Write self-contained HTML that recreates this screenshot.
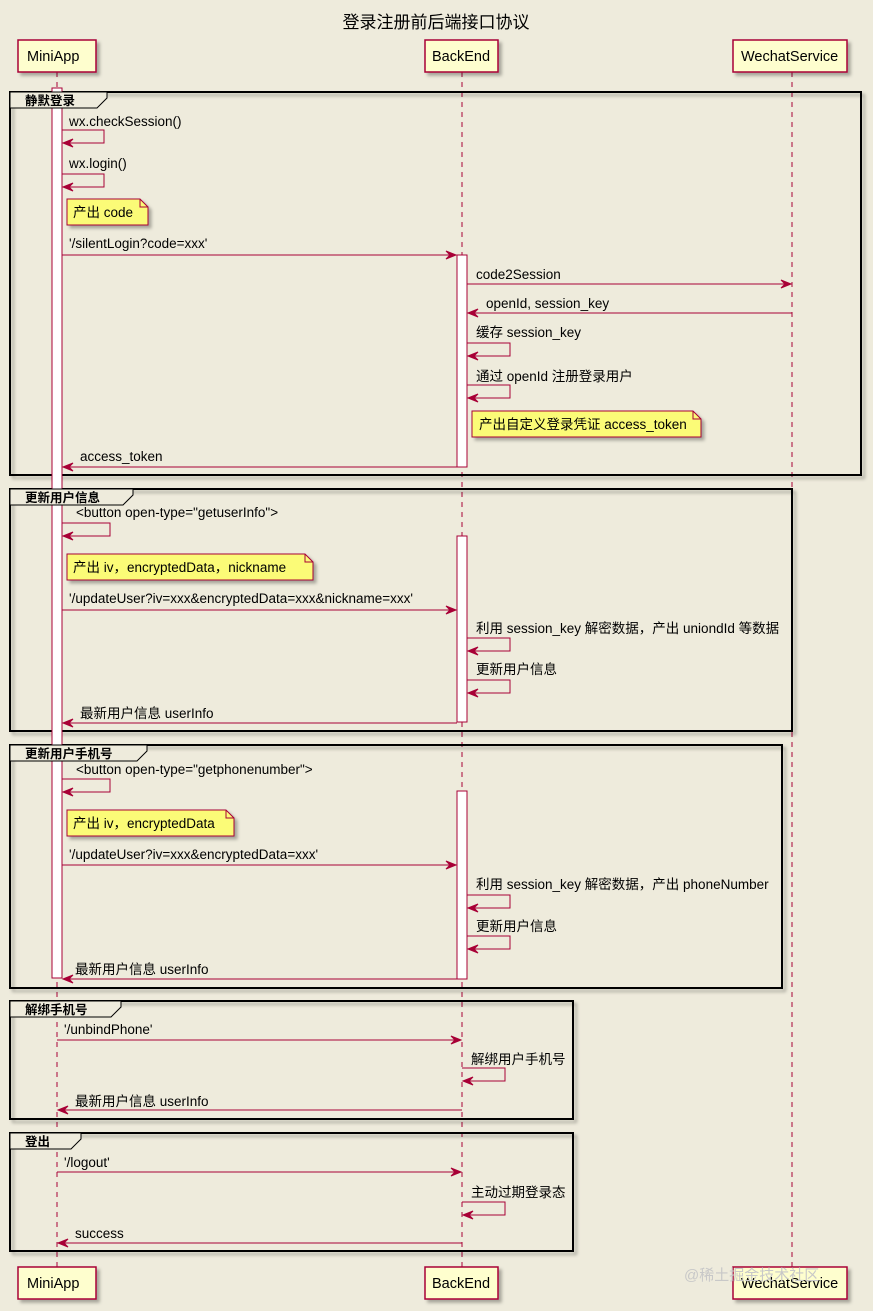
<!DOCTYPE html>
<html><head><meta charset="utf-8"><style>
html,body{margin:0;padding:0;background:#EEEBDC;}
svg{display:block;}
text{font-family:"Liberation Sans","Noto Sans CJK SC",sans-serif;font-size:13.5px;fill:#000;}
.b{font-weight:bold;font-size:12.5px;}
.ar{stroke:#A80036;stroke-width:1;fill:none;}
.ah{fill:#A80036;stroke:#A80036;}
.ll{stroke:#A80036;stroke-width:1;stroke-dasharray:5,5;}
.act{fill:#fff;stroke:#A80036;stroke-width:1;}
.pb{fill:#FEFECE;stroke:#A80036;stroke-width:1.5;}
.gr{fill:none;stroke:#000;stroke-width:2;}
.note{fill:#FBFB77;stroke:#A80036;stroke-width:1;}
</style></head><body>
<svg width="873" height="1311" viewBox="0 0 873 1311" xmlns="http://www.w3.org/2000/svg">
<defs>
<filter id="sh" x="-10%" y="-10%" width="130%" height="140%"><feDropShadow dx="3" dy="3" stdDeviation="1.5" flood-color="#000" flood-opacity="0.3"/></filter>
</defs>
<text x="436" y="28" text-anchor="middle" style="font-size:17px">登录注册前后端接口协议</text>

<line class="ll" x1="57" y1="72" x2="57" y2="1267"/>
<line class="ll" x1="462" y1="72" x2="462" y2="1267"/>
<line class="ll" x1="792" y1="72" x2="792" y2="1267"/>

<g filter="url(#sh)">
<rect class="gr" x="10" y="92" width="851" height="383"/>
<rect class="gr" x="10" y="489" width="782" height="242"/>
<rect class="gr" x="10" y="745" width="772" height="243"/>
<rect class="gr" x="10" y="1001" width="563" height="118"/>
<rect class="gr" x="10" y="1133" width="563" height="118"/>
</g>

<rect class="act" x="52" y="88" width="10" height="890"/>
<rect class="act" x="457" y="255" width="10" height="212"/>
<rect class="act" x="457" y="536" width="10" height="186"/>
<rect class="act" x="457" y="791" width="10" height="188"/>

<g stroke="#000" stroke-width="1" fill="#EEEBDC">
<path d="M10 92 H107 V98 L97 108 H10 Z"/>
<path d="M10 489 H133 V495 L123 505 H10 Z"/>
<path d="M10 745 H147 V751 L137 761 H10 Z"/>
<path d="M10 1001 H121 V1007 L111 1017 H10 Z"/>
<path d="M10 1133 H81 V1139 L71 1149 H10 Z"/>
</g>
<text class="b" x="25" y="105">静默登录</text>
<text class="b" x="25" y="502">更新用户信息</text>
<text class="b" x="25" y="758">更新用户手机号</text>
<text class="b" x="25" y="1014">解绑手机号</text>
<text class="b" x="25" y="1146">登出</text>

<g filter="url(#sh)">
<rect class="pb" x="18" y="40" width="78" height="32"/>
<rect class="pb" x="425" y="40" width="73" height="32"/>
<rect class="pb" x="733" y="40" width="114" height="32"/>
<rect class="pb" x="18" y="1267" width="78" height="32"/>
<rect class="pb" x="425" y="1267" width="73" height="32"/>
<rect class="pb" x="733" y="1267" width="114" height="32"/>
</g>
<text x="27" y="61" style="font-size:14.5px">MiniApp</text>
<text x="432" y="61" style="font-size:14.5px">BackEnd</text>
<text x="741" y="61" style="font-size:14.5px">WechatService</text>
<text x="27" y="1288" style="font-size:14.5px">MiniApp</text>
<text x="432" y="1288" style="font-size:14.5px">BackEnd</text>
<text x="741" y="1288" style="font-size:14.5px">WechatService</text>

<g>
<path class="ar" d="M62 130 H104 V143 H63"/><path class="ah" d="M63 143 l10 -4 l-4 4 l4 4z"/>
<text x="69" y="126">wx.checkSession()</text>
<path class="ar" d="M62 174 H104 V187 H63"/><path class="ah" d="M63 187 l10 -4 l-4 4 l4 4z"/>
<text x="69" y="168">wx.login()</text>
<path class="ar" d="M62 523 H110 V536 H63"/><path class="ah" d="M63 536 l10 -4 l-4 4 l4 4z"/>
<text x="76" y="517">&lt;button open-type="getuserInfo"&gt;</text>
<path class="ar" d="M62 779 H110 V792 H63"/><path class="ah" d="M63 792 l10 -4 l-4 4 l4 4z"/>
<text x="76" y="774">&lt;button open-type="getphonenumber"&gt;</text>

<g filter="url(#sh)">
<path class="note" d="M67 199 H140 L148 207 V225 H67 Z"/>
<path class="note" d="M472 411 H693 L701 419 V437 H472 Z"/>
<path class="note" d="M67 554 H305 L313 562 V580 H67 Z"/>
<path class="note" d="M67 810 H226 L234 818 V836 H67 Z"/>
</g>
<path d="M140 199 V207 H148" fill="none" stroke="#A80036"/>
<path d="M693 411 V419 H701" fill="none" stroke="#A80036"/>
<path d="M305 554 V562 H313" fill="none" stroke="#A80036"/>
<path d="M226 810 V818 H234" fill="none" stroke="#A80036"/>
<text x="73" y="217">产出 code</text>
<text x="479" y="429">产出自定义登录凭证 access_token</text>
<text x="73" y="572">产出 iv，encryptedData，nickname</text>
<text x="73" y="828">产出 iv，encryptedData</text>

<line class="ar" x1="62" y1="255" x2="456" y2="255"/><path class="ah" d="M456 255 l-10 -4 l4 4 l-4 4z"/>
<text x="69" y="248">'/silentLogin?code=xxx'</text>
<line class="ar" x1="467" y1="284" x2="791" y2="284"/><path class="ah" d="M791 284 l-10 -4 l4 4 l-4 4z"/>
<text x="476" y="279">code2Session</text>
<line class="ar" x1="792" y1="313" x2="468" y2="313"/><path class="ah" d="M468 313 l10 -4 l-4 4 l4 4z"/>
<text x="486" y="308">openId, session_key</text>
<path class="ar" d="M467 343 H510 V356 H468"/><path class="ah" d="M468 356 l10 -4 l-4 4 l4 4z"/>
<text x="476" y="337">缓存 session_key</text>
<path class="ar" d="M467 385 H510 V398 H468"/><path class="ah" d="M468 398 l10 -4 l-4 4 l4 4z"/>
<text x="476" y="381">通过 openId 注册登录用户</text>
<line class="ar" x1="457" y1="467" x2="63" y2="467"/><path class="ah" d="M63 467 l10 -4 l-4 4 l4 4z"/>
<text x="80" y="461">access_token</text>

<line class="ar" x1="62" y1="610" x2="456" y2="610"/><path class="ah" d="M456 610 l-10 -4 l4 4 l-4 4z"/>
<text x="69" y="603">'/updateUser?iv=xxx&amp;encryptedData=xxx&amp;nickname=xxx'</text>
<path class="ar" d="M467 638 H510 V651 H468"/><path class="ah" d="M468 651 l10 -4 l-4 4 l4 4z"/>
<text x="476" y="633">利用 session_key 解密数据，产出 uniondId 等数据</text>
<path class="ar" d="M467 680 H510 V693 H468"/><path class="ah" d="M468 693 l10 -4 l-4 4 l4 4z"/>
<text x="476" y="674">更新用户信息</text>
<line class="ar" x1="457" y1="723" x2="63" y2="723"/><path class="ah" d="M63 723 l10 -4 l-4 4 l4 4z"/>
<text x="80" y="718">最新用户信息 userInfo</text>

<line class="ar" x1="62" y1="865" x2="456" y2="865"/><path class="ah" d="M456 865 l-10 -4 l4 4 l-4 4z"/>
<text x="69" y="859">'/updateUser?iv=xxx&amp;encryptedData=xxx'</text>
<path class="ar" d="M467 895 H510 V908 H468"/><path class="ah" d="M468 908 l10 -4 l-4 4 l4 4z"/>
<text x="476" y="889">利用 session_key 解密数据，产出 phoneNumber</text>
<path class="ar" d="M467 936 H510 V949 H468"/><path class="ah" d="M468 949 l10 -4 l-4 4 l4 4z"/>
<text x="476" y="931">更新用户信息</text>
<line class="ar" x1="457" y1="979" x2="63" y2="979"/><path class="ah" d="M63 979 l10 -4 l-4 4 l4 4z"/>
<text x="75" y="974">最新用户信息 userInfo</text>

<line class="ar" x1="57" y1="1040" x2="461" y2="1040"/><path class="ah" d="M461 1040 l-10 -4 l4 4 l-4 4z"/>
<text x="64" y="1034">'/unbindPhone'</text>
<path class="ar" d="M462 1068 H505 V1081 H463"/><path class="ah" d="M463 1081 l10 -4 l-4 4 l4 4z"/>
<text x="471" y="1064">解绑用户手机号</text>
<line class="ar" x1="462" y1="1110" x2="58" y2="1110"/><path class="ah" d="M58 1110 l10 -4 l-4 4 l4 4z"/>
<text x="75" y="1106">最新用户信息 userInfo</text>

<line class="ar" x1="57" y1="1172" x2="461" y2="1172"/><path class="ah" d="M461 1172 l-10 -4 l4 4 l-4 4z"/>
<text x="64" y="1167">'/logout'</text>
<path class="ar" d="M462 1202 H505 V1215 H463"/><path class="ah" d="M463 1215 l10 -4 l-4 4 l4 4z"/>
<text x="471" y="1197">主动过期登录态</text>
<line class="ar" x1="462" y1="1243" x2="58" y2="1243"/><path class="ah" d="M58 1243 l10 -4 l-4 4 l4 4z"/>
<text x="75" y="1238">success</text>
</g>
<text x="684" y="1280" style="font-size:15px;fill:#c8c8c8">@稀土掘金技术社区</text>
</svg>
</body></html>
